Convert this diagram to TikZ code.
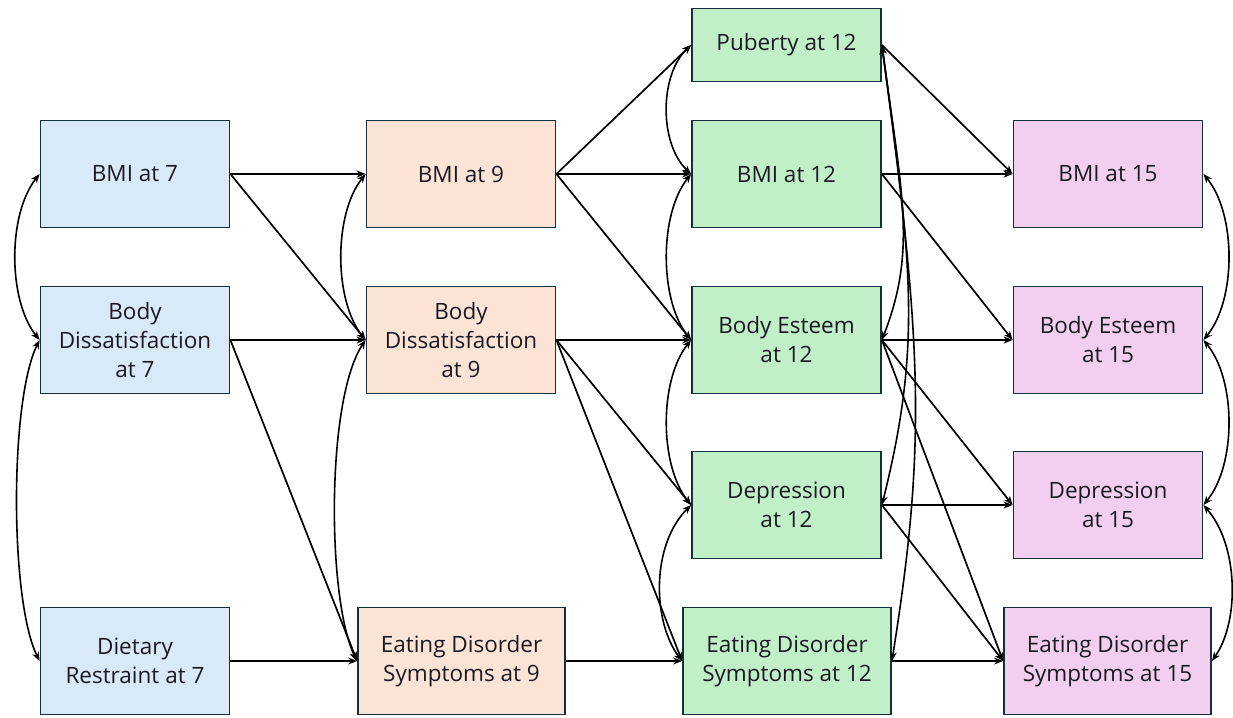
\documentclass[tikz,border=0pt]{standalone}
\usepackage{fontspec}
\setmainfont{Open Sans}
\usetikzlibrary{arrows.meta,positioning}
\definecolor{edgec}{HTML}{14303E}
\definecolor{txtc}{HTML}{1A1A22}
\definecolor{wave7}{HTML}{DAE9F8}
\definecolor{wave9}{HTML}{FBE3D6}
\definecolor{wave12}{HTML}{C1F0C8}
\definecolor{wave15}{HTML}{F2CFEE}
\begin{document}
\begin{tikzpicture}[x=1pt, y=-1pt,
    box/.style={draw=edgec, line width=1.8pt, minimum width=189pt, minimum height=107pt, align=center, inner sep=2pt, text=txtc, font=\fontsize{22.5}{29}\selectfont},
    arr/.style={-{Stealth[length=9pt, width=7pt]}, line width=1.7pt},
    cov/.style={{Stealth[length=9pt, width=7pt]}-{Stealth[length=9pt, width=7pt]}, line width=1.6pt}
]
\useasboundingbox (0,0) rectangle (1233,717);

% wave at 7
\node[box, fill=wave7] (bmi7) at (135,174) {BMI at 7};
\node[box, fill=wave7] (bd7) at (135,340) {Body\\Dissatisfaction\\at 7};
\node[box, fill=wave7] (dr7) at (135,661) {Dietary\\Restraint at 7};
% wave at 9
\node[box, fill=wave9] (bmi9) at (461,174) {BMI at 9};
\node[box, fill=wave9] (bd9) at (461,340) {Body\\Dissatisfaction\\at 9};
\node[box, fill=wave9, minimum width=207pt] (ed9) at (461.5,661) {Eating Disorder\\Symptoms at 9};
% wave at 12
\node[box, fill=wave12, minimum height=73pt] (pub12) at (786.5,45) {Puberty at 12};
\node[box, fill=wave12] (bmi12) at (786.5,174) {BMI at 12};
\node[box, fill=wave12] (be12) at (786.5,340) {Body Esteem\\at 12};
\node[box, fill=wave12] (dep12) at (786.5,505) {Depression\\at 12};
\node[box, fill=wave12, minimum width=208pt] (ed12) at (787,661) {Eating Disorder\\Symptoms at 12};
% wave at 15
\node[box, fill=wave15] (bmi15) at (1108,174) {BMI at 15};
\node[box, fill=wave15] (be15) at (1108,340) {Body Esteem\\at 15};
\node[box, fill=wave15] (dep15) at (1108,505) {Depression\\at 15};
\node[box, fill=wave15, minimum width=207pt] (ed15) at (1107.5,661) {Eating Disorder\\Symptoms at 15};

% paths 7 -> 9
\draw[arr] (bmi7.east) -- (bmi9.west);
\draw[arr] (bmi7.east) -- (bd9.west);
\draw[arr] (bd7.east) -- (bd9.west);
\draw[arr] (bd7.east) -- (ed9.west);
\draw[arr] (dr7.east) -- (ed9.west);
% paths 9 -> 12
\draw[arr] (bmi9.east) -- (pub12.west);
\draw[arr] (bmi9.east) -- (bmi12.west);
\draw[arr] (bmi9.east) -- (be12.west);
\draw[arr] (bd9.east) -- (be12.west);
\draw[arr] (bd9.east) -- (dep12.west);
\draw[arr] (bd9.east) -- (ed12.west);
\draw[arr] (ed9.east) -- (ed12.west);
% paths 12 -> 15
\draw[arr] (pub12.east) -- (bmi15.west);
\draw[arr] (bmi12.east) -- (bmi15.west);
\draw[arr] (bmi12.east) -- (be15.west);
\draw[arr] (be12.east) -- (be15.west);
\draw[arr] (be12.east) -- (dep15.west);
\draw[arr] (be12.east) -- (ed15.west);
\draw[arr] (dep12.east) -- (dep15.west);
\draw[arr] (dep12.east) -- (ed15.west);
\draw[arr] (ed12.east) -- (ed15.west);

% covariances
\draw[cov] (bmi7.west) .. controls +(-32,40) and +(-32,-40) .. (bd7.west);
\draw[cov] (bd7.west) .. controls +(-30,60) and +(-30,-60) .. (dr7.west);
\draw[cov] (bmi9.west) .. controls +(-32,40) and +(-32,-40) .. (bd9.west);
\draw[cov] (bd9.west) .. controls +(-40,60) and +(-30,-60) .. (ed9.west);
\draw[cov] (pub12.west) .. controls +(-32,30) and +(-32,-30) .. (bmi12.west);
\draw[cov] (bmi12.west) .. controls +(-32,40) and +(-32,-40) .. (be12.west);
\draw[cov] (be12.west) .. controls +(-32,40) and +(-32,-40) .. (dep12.west);
\draw[cov] (dep12.west) .. controls +(-40,40) and +(-30,-40) .. (ed12.west);
\draw[cov] (pub12.east) .. controls +(20,150) and +(35,-90) .. (be12.east);
\draw[cov] (pub12.east) .. controls +(30,220) and +(40,-160) .. (dep12.east);
\draw[cov] (pub12.east) .. controls +(40,300) and +(35,-220) .. (ed12.east);
\draw[cov] (bmi15.east) .. controls +(33,40) and +(33,-40) .. (be15.east);
\draw[cov] (be15.east) .. controls +(33,40) and +(33,-40) .. (dep15.east);
\draw[cov] (dep15.east) .. controls +(35,40) and +(28,-40) .. (ed15.east);
\end{tikzpicture}
\end{document}
